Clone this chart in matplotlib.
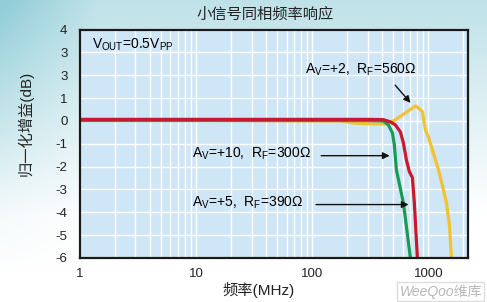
import numpy as np
import matplotlib.pyplot as plt
from matplotlib.ticker import FixedLocator, NullFormatter

plt.rcParams['font.family'] = ['Liberation Sans', 'Noto Sans CJK SC', 'DejaVu Sans']
plt.rcParams['mathtext.fontset'] = 'custom'
plt.rcParams['mathtext.rm'] = 'Liberation Sans'

# data (MHz, dB)
f_av5 = [1, 300, 409, 452, 490, 509, 530, 609, 700]
g_av5 = [0.02, 0.02, 0.0, -0.17, -0.52, -1.04, -2.14, -3.58, -6.0]

f_av10 = [1, 300, 409, 470, 519, 574, 609, 646, 686, 728, 757, 804]
g_av10 = [0.07, 0.07, 0.06, -0.04, -0.17, -0.48, -0.96, -1.7, -2.22, -2.48, -3.58, -6.0]

f_av2 = [1, 174, 235, 349, 443, 519, 634, 773, 820, 888, 942, 1000, 1082, 1220, 1321, 1430, 1517, 1579]
g_av2 = [0.05, 0.0, -0.1, -0.13, -0.13, 0.05, 0.35, 0.66, 0.57, 0.4, -0.39, -0.7, -1.26, -2.13, -2.83, -3.58, -4.54, -6.0]

y_ticks = [-6, -5, -4, -3, -2, -1, 0, 1, 2, 3, 4]
y_labels = ['-6', '-5', '-4', '-3', '-2', '-1', '0', '1', '3', '3', '4']
x_ticks = [1, 10, 100, 1000]
x_labels = ['1', '10', '100', '1000']

fig = plt.figure(figsize=(4.87, 3.02), dpi=100)

# background gradient
bg = fig.add_axes([0, 0, 1, 1])
yy, xx = np.mgrid[0:1:200j, 0:1:300j]
t = np.clip(1.0 - yy * 1.4, 0, 1) * 0.6 + np.clip(1.0 - xx * 5, 0, 1) * np.clip(1.0 - yy * 1.1, 0, 1) * 0.45
t = np.clip(t, 0, 1)
c0 = np.array([1.0, 1.0, 1.0])
c1 = np.array([0.58, 0.81, 0.85])
img = c0[None, None, :] * (1 - t[..., None]) + c1[None, None, :] * t[..., None]
bg.imshow(img, extent=(0, 1, 0, 1), aspect='auto')
bg.axis('off')

ax = fig.add_axes([0.1643, 0.1457, 0.797, 0.7563])
ax.set_facecolor('#cfe6f6')
ax.set_xscale('log')
ax.set_xlim(1, 2200)
ax.set_ylim(-6, 4)

ax.xaxis.set_major_locator(FixedLocator(x_ticks))
ax.set_xticklabels(x_labels)
ax.xaxis.set_minor_formatter(NullFormatter())
ax.set_yticks(y_ticks)
ax.set_yticklabels(y_labels)
ax.tick_params(which='both', length=0, labelsize=9.5, colors='#222222')
ax.tick_params(axis='y', pad=9)
ax.tick_params(axis='x', pad=7)
ax.grid(True, which='both', color='white', linewidth=1.0)
ax.set_axisbelow(True)
for s in ax.spines.values():
    s.set_color('#1a1a1a')
    s.set_linewidth(1.6)

ax.plot(f_av2, g_av2, color='#f2c232', linewidth=2.3)
ax.plot(f_av5, g_av5, color='#1a9a55', linewidth=2.3)
ax.plot(f_av10, g_av10, color='#c8192e', linewidth=2.3)

ax.text(1.27, 3.35, r'$\mathregular{V_{OUT}}$=0.5$\mathregular{V_{PP}}$', fontsize=10, va='center')
ax.text(87, 2.25, r'$\mathregular{A_V}$=+2,  $\mathregular{R_F}$=560Ω', fontsize=10, va='center')
ax.text(9.3, -1.45, r'$\mathregular{A_V}$=+10,  $\mathregular{R_F}$=300Ω', fontsize=10, va='center')
ax.text(9.3, -3.6, r'$\mathregular{A_V}$=+5,  $\mathregular{R_F}$=390Ω', fontsize=10, va='center')

arw = dict(arrowstyle='-|>', color='#111111', lw=1.0, mutation_scale=10)
ax.annotate('', xy=(728, 0.7), xytext=(499, 1.66), arrowprops=arw)
ax.annotate('', xy=(490, -1.52), xytext=(113, -1.52), arrowprops=arw)
ax.annotate('', xy=(713, -3.66), xytext=(102, -3.66), arrowprops=arw)

fig.text(0.545, 0.953, '小信号同相频率响应', fontsize=11, ha='center', va='center', color='#222222')
fig.text(0.53, 0.04, '频率(MHz)', fontsize=11, ha='center', va='center', color='#222222')
fig.text(0.052, 0.59, '归一化增益(dB)', fontsize=11, ha='center', va='center', rotation=90, color='#222222')

fig.text(0.905, 0.035, 'WeeQoo维库', fontsize=10, ha='center', va='center', color='#b8b8b8',
         style='italic', bbox=dict(facecolor='white', edgecolor='#dddddd', pad=1.5))

plt.savefig('out.png', dpi=100)
